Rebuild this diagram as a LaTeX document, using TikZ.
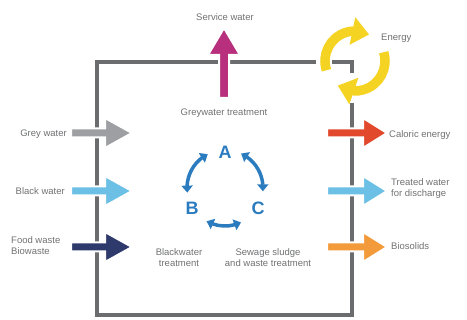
\documentclass[tikz,border=0pt]{standalone}
\usepackage{fontspec}
\setmainfont{Liberation Sans}
\usetikzlibrary{arrows.meta,bending}
\definecolor{boxgray}{HTML}{6B6C6E}
\definecolor{txtgray}{HTML}{707173}
\definecolor{greyarr}{HTML}{9D9FA2}
\definecolor{lblue}{HTML}{6CC0E5}
\definecolor{navy}{HTML}{2E3A6B}
\definecolor{magentaarr}{HTML}{B72F7D}
\definecolor{energyyellow}{HTML}{F5D322}
\definecolor{redarr}{HTML}{E2482C}
\definecolor{orangearr}{HTML}{F39A3A}
\definecolor{cycblue}{HTML}{2B7BBF}
\tikzset{
  lbl/.style={text=txtgray, font=\fontsize{9.5}{11}\selectfont, inner sep=0pt},
  letter/.style={text=cycblue, font=\fontsize{18}{18}\selectfont\bfseries, inner sep=0pt},
  boxline/.style={draw=boxgray, line width=4.5pt},
  blk/.style={draw=white, line width=2pt},
  cyc/.style={draw=cycblue, line width=3.5pt, {Triangle[width=11pt,length=7pt]}-{Triangle[width=11pt,length=7pt]}},
  energy/.style={draw=energyyellow, line width=9.5pt, -{Triangle[width=27pt,length=17pt]}},
}
\newcommand{\rblock}[5]{\filldraw[blk, fill=#5] ({#1},{#4-4.5}) -- ({#2},{#4-4.5}) -- ({#2},{#4-15}) -- ({#3},{#4}) -- ({#2},{#4+15}) -- ({#2},{#4+4.5}) -- ({#1},{#4+4.5}) -- cycle;}
\begin{document}
\begin{tikzpicture}[x=1pt,y=-1pt]
\useasboundingbox (0,0) rectangle (467,320);
% frame
\draw[boxline] (316,62) -- (97,62) -- (97,315) -- (352,315) -- (352,103);
\draw[boxline] (332,62) -- (352,62) -- (352,73);
% input arrows
\rblock{71}{105}{132}{133}{greyarr}
\rblock{71}{105}{132}{191}{lblue}
\rblock{71}{105}{132}{247}{navy}
% output arrows
\rblock{327}{363}{387}{133}{redarr}
\rblock{327}{363}{387}{191}{lblue}
\rblock{327}{363}{387}{247}{orangearr}
% service water arrow
\filldraw[blk, fill=magentaarr] (219,98) -- (219,55) -- (208,55) -- (224,28) -- (240,55) -- (229,55) -- (229,98) -- cycle;
% energy arrows
\coordinate (ec) at (355,61);
\draw[energy] (ec) ++(162:30) arc[start angle=162, end angle=298, radius=30];
\draw[energy] (ec) ++(-17:30) arc[start angle=-17, end angle=125, radius=30];
% cycle
\coordinate (cc) at (225,188);
\node[letter] (A) at (225,152) {A};
\node[letter] (B) at (192,208) {B};
\node[letter] (C) at (258,208) {C};
\draw[cyc] (cc) ++(-117:38) arc[start angle=-117, end angle=-187, radius=38];
\draw[cyc] (cc) ++(-65:38) arc[start angle=-65, end angle=5, radius=38];
\draw[cyc] (cc) ++(119:38) arc[start angle=119, end angle=65, radius=38];
% labels
\node[lbl] (service) at (225,17) {Service water};
\node[lbl, anchor=west] (energylbl) at (381,38) {Energy};
\node[lbl] (greytr) at (224,113) {Greywater treatment};
\node[lbl, anchor=east] (gw) at (67,134) {Grey water};
\node[lbl, anchor=east] (bw) at (65,191) {Black water};
\node[lbl, anchor=west, align=left] (fw) at (11,246) {Food waste\\Biowaste};
\node[lbl, anchor=west] (cal) at (389,135) {Caloric energy};
\node[lbl, anchor=west, align=left] (tw) at (391,189) {Treated water\\for discharge};
\node[lbl, anchor=west] (bio) at (391,246) {Biosolids};
\node[lbl, align=center] (bwt) at (179,258) {Blackwater\\treatment};
\node[lbl, align=center] (sst) at (268,258) {Sewage sludge\\and waste treatment};
\end{tikzpicture}
\end{document}
